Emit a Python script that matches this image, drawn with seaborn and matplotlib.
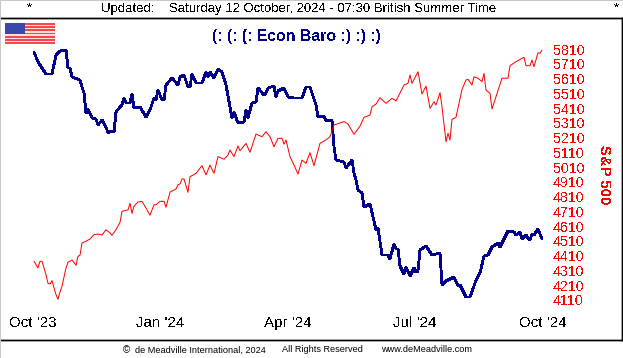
import matplotlib
matplotlib.use("Agg")
import matplotlib.pyplot as plt
import numpy as np
import pandas as pd
import seaborn as sns

# trading sessions since the start of Oct '23
sp_sessions = [0, 2, 3, 4, 6, 7, 8, 9, 11, 12, 13, 14, 16, 17, 19, 21, 22, 23, 24, 26, 28, 30, 32, 34, 36, 38, 39,
               41, 43, 44, 47, 48, 49, 50, 52, 54, 56, 58, 60, 61, 63, 65, 66, 68, 71, 72, 73, 74, 75, 77, 78,
               81, 84, 86, 88, 90, 92, 95, 97, 98, 100, 102, 103, 106, 108, 111, 114, 116, 118, 120, 122, 124,
               125, 126, 128, 130, 132, 134, 136, 138, 140, 143, 146, 148, 150, 155, 157, 160, 163, 165, 168,
               169, 171, 173, 176, 179, 181, 185, 187, 188, 189, 192, 194, 196, 198, 200, 201, 203, 204, 206,
               207, 208, 209, 211, 214, 216, 217, 219, 220, 222, 224, 225, 226, 228, 229, 231, 234, 237, 238,
               241, 245, 246, 248, 249, 250, 252, 253, 254]
sp_values = [4372, 4327, 4372, 4372, 4281, 4223, 4218, 4241, 4146, 4115, 4164, 4203, 4327, 4365, 4381, 4345, 4406,
             4413, 4496, 4508, 4523, 4552, 4557, 4550, 4586, 4564, 4548, 4586, 4636, 4711, 4720, 4765, 4697,
             4745, 4774, 4778, 4733, 4684, 4755, 4755, 4778, 4778, 4738, 4841, 4862, 4891, 4896, 4930, 4930,
             4839, 4945, 4968, 5020, 4957, 5024, 4968, 5081, 5063, 5092, 5126, 5081, 5153, 5121, 5171, 5110,
             5234, 5216, 5250, 5216, 5148, 5205, 5205, 5165, 5194, 5081, 5024, 4963, 5058, 5036, 5108, 5020,
             5171, 5194, 5216, 5295, 5318, 5302, 5232, 5288, 5347, 5363, 5419, 5437, 5480, 5442, 5476, 5458,
             5566, 5578, 5634, 5578, 5656, 5505, 5559, 5408, 5453, 5431, 5514, 5419, 5182, 5239, 5194, 5334,
             5347, 5537, 5600, 5605, 5566, 5622, 5612, 5589, 5645, 5532, 5510, 5404, 5487, 5612, 5612, 5697,
             5724, 5754, 5697, 5697, 5735, 5690, 5785, 5781, 5803]

baro_sessions = [0, 2, 6, 9, 11, 13, 16, 17, 18, 19, 23, 24, 25, 26, 27, 29, 31, 32, 34, 36, 37, 38, 40, 41, 43,
                 44, 45, 46, 48, 49, 50, 53, 56, 58, 60, 61, 62, 64, 65, 66, 69, 72, 73, 75, 77, 78, 79, 81, 84,
                 86, 87, 88, 90, 92, 94, 96, 98, 99, 100, 102, 105, 106, 107, 109, 111, 112, 115, 116, 117, 120,
                 121, 122, 125, 127, 130, 134, 136, 138, 141, 142, 145, 146, 149, 150, 151, 155, 156, 159, 160,
                 161, 162, 164, 165, 168, 170, 171, 172, 174, 177, 178, 180, 181, 182, 183, 185, 186, 188, 190,
                 191, 192, 193, 196, 199, 203, 204, 206, 210, 212, 213, 216, 218, 220, 221, 223, 225, 227, 229,
                 232, 233, 237, 240, 241, 243, 244, 246, 247, 248, 249, 250, 252, 254]
baro_values = [248, 238, 226, 226, 245, 249, 250, 232, 232, 223, 220, 213, 207, 187, 191, 182, 181, 175, 180, 173,
               167, 169, 168, 188, 193, 195, 202, 197, 197, 206, 192, 193, 183, 190, 202, 200, 210, 200, 200, 215,
               222, 215, 223, 225, 213, 213, 226, 217, 217, 228, 223, 228, 222, 231, 228, 215, 193, 182, 188, 177,
               178, 190, 182, 197, 198, 212, 205, 207, 212, 214, 203, 209, 212, 203, 202, 202, 213, 213, 195, 183,
               184, 179, 180, 153, 140, 138, 132, 140, 127, 120, 110, 107, 93, 96, 79, 70, 72, 45, 45, 41, 56, 51,
               51, 34, 26, 33, 24, 32, 28, 29, 50, 54, 45, 47, 15, 19, 23, 14, 15, 3, 3, 14, 20, 27, 44, 45, 53,
               57, 53, 69, 68, 65, 68, 61, 65, 62, 60, 66, 65, 71, 61]

sp_ticks = [5810, 5710, 5610, 5510, 5410, 5310, 5210, 5110, 5010, 4910, 4810, 4710, 4610, 4510, 4410, 4310, 4210,
            4110]
quarter_sessions = [-0.5, 63, 127, 190.5, 254.5]
quarter_labels = ["Oct '23", "Jan '24", "Apr '24", "Jul '24", "Oct '24"]

W, H = 623, 358
NAVY = "#00008b"
RED = "#ff0000"

sns.set_style("white")
plt.rcParams["font.family"] = ["Liberation Sans", "DejaVu Sans"]
plt.rcParams["text.antialiased"] = False

sp_df = pd.DataFrame({"session": sp_sessions, "sp": sp_values})
baro_df = pd.DataFrame({"session": baro_sessions, "baro": baro_values})

fig = plt.figure(figsize=(W / 100, H / 100), dpi=100, facecolor="white")
ax = fig.add_axes([1 / W, 1 - 340 / H, 621 / W, 322 / H])
ax2 = ax.twinx()

sns.lineplot(data=baro_df, x="session", y="baro", ax=ax, color=NAVY, linewidth=1.3, antialiased=False)
sns.lineplot(data=sp_df, x="session", y="sp", ax=ax2, color=RED, linewidth=0.72, antialiased=True)

ax.set_xlim(-16.5, 294)
ax.set_ylim(-40, 282)
ax2.set_ylim(3839, 6020)
ax.set_xlabel("")
ax.set_ylabel("")
ax2.set_ylabel("")
ax.set_yticks([])
ax.set_xticks(quarter_sessions)
ax.set_xticklabels(quarter_labels, fontsize=10.9, color="black")
ax.tick_params(axis="x", length=0, pad=-17.5)
ax2.set_yticks(sp_ticks)
ax2.set_yticklabels([str(v) for v in sp_ticks], fontsize=10.2, color=RED)
ax2.tick_params(axis="y", length=0, pad=-49.7)

for a in (ax, ax2):
    for side, sp in a.spines.items():
        sp.set_color("black")
        sp.set_linewidth(1.0)
    a.spines["left"].set_visible(False)


def px_text(x, y, s, **kw):
    kw.setdefault("color", "black")
    kw.setdefault("va", "center")
    return fig.text(x / W, 1 - y / H, s, **kw)


px_text(29, 8, "*", fontsize=9.5, ha="center")
px_text(616, 8, "*", fontsize=9.5, ha="center")
px_text(101, 9, "Updated:", fontsize=9.5)
px_text(169, 9, "Saturday 12 October, 2024 - 07:30 British Summer Time", fontsize=9.45)
px_text(296, 37, "(: (: (: Econ Baro :) :) :)", fontsize=11.4, fontweight="bold", color=NAVY, ha="center")
px_text(604, 174.5, "S&P 500", fontsize=10.7, fontweight="bold", color=RED, rotation=270, ha="center")

# footer is too small for aliased glyphs
footer = [(123, "©", 7), (135, "de Meadville International, 2024", 6.6),
          (282, "All Rights Reserved", 6.6), (381, "www.deMeadville.com", 6.6)]
for fx, s, size in footer:
    t = px_text(fx, 350, s, fontsize=size)
    t.set_antialiased(True)

# light grey edge of the page
fig.add_artist(plt.Rectangle((0, 0), 1 / W, 1, color="#c8c8c8", lw=0, transform=fig.transFigure))
fig.add_artist(plt.Rectangle((0, 1 - 1 / H), 1, 1 / H, color="#c8c8c8", lw=0, transform=fig.transFigure))

# flag, drawn stripe by stripe
flag = fig.add_axes([5 / W, 1 - 44 / H, 50 / W, 21 / H])
stripes = np.array([[1 if i % 2 == 0 else 0] for i in range(13)])
flag.imshow(stripes, cmap=matplotlib.colors.ListedColormap(["#ffdcdc", "#f24a4a"]), aspect="auto", interpolation="nearest")
flag.add_patch(plt.Rectangle((-0.5, -0.5), 0.4, 7, color="#3a48a8", lw=0))
flag.axis("off")

fig.savefig("out.png", dpi=100)
